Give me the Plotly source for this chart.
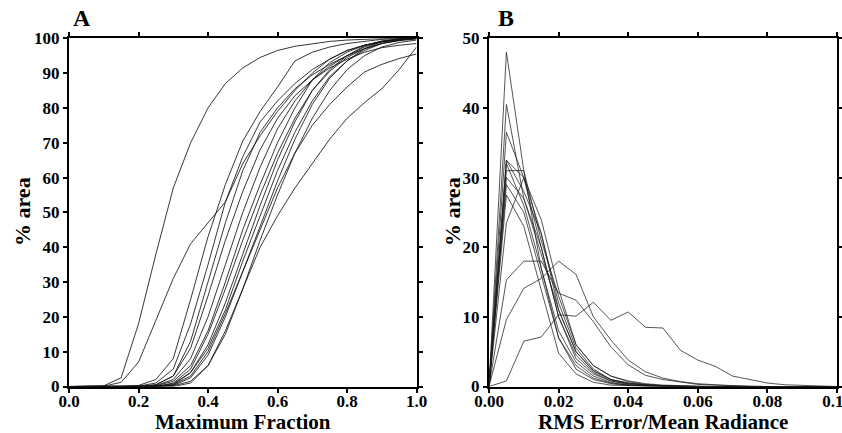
import plotly.graph_objects as go

# ---------- Panel A data (cumulative % area vs maximum fraction) ----------
xa = [0.00, 0.05, 0.10, 0.15, 0.20, 0.25, 0.30, 0.35, 0.40, 0.45, 0.50,
      0.55, 0.60, 0.65, 0.70, 0.75, 0.80, 0.85, 0.90, 0.95, 1.00]
a1 = [0, 0, 0.2, 2.5, 18, 38, 57, 70, 80, 87, 91.5, 94.5, 96.5, 97.7, 98.5, 99.1, 99.5, 99.8, 99.9, 100, 100]
a2 = [0, 0, 0.1, 1.2, 7, 19, 31, 41, 47, 53, 64, 72, 79, 85, 90, 94, 96.5, 98, 99, 99.5, 100]
a3 = [0, 0, 0, 0, 0.3, 2, 8, 25, 43, 58, 70.5, 79, 86, 93.5, 96, 97.5, 98.5, 99.2, 99.7, 99.9, 100]
a4 = [0, 0, 0, 0, 0.1, 1, 5, 18, 35, 53, 66, 76, 82, 87, 91, 94, 96.5, 98, 99, 99.6, 100]
a5 = [0, 0, 0, 0, 0, 0.5, 3, 13, 30, 47, 62, 73, 80, 85.5, 89.5, 92.5, 95, 97, 98.5, 99.3, 99.8]
a6 = [0, 0, 0, 0, 0, 0.3, 2, 8, 20, 35, 50, 63, 74, 82, 88, 92, 95, 97.5, 99, 99.7, 100]
a7 = [0, 0, 0, 0, 0, 0, 1, 5, 15, 28, 42, 55, 67, 77, 85, 90.5, 94.5, 97, 98.5, 99.5, 100]
a8 = [0, 0, 0, 0, 0, 0, 0.5, 4, 12, 24, 38, 52, 65, 76, 85, 91, 95, 97.8, 99.2, 99.8, 100]
a9 = [0, 0, 0, 0, 0, 0, 0.8, 4, 11, 22, 36, 49, 62, 73, 82, 89, 93.5, 96.5, 98.5, 99.5, 100]
a10 = [0, 0, 0, 0, 0, 0, 0.3, 2.5, 9, 20, 33, 46, 59, 71, 81, 88.5, 93.5, 97, 99, 99.7, 100]
a11 = [0, 0, 0, 0, 0, 0, 0.5, 3, 10, 21, 33, 45, 57, 67, 75, 81, 86, 90.3, 92.5, 94.2, 95.5]
a12 = [0, 0, 0, 0, 0, 0, 0, 1, 6, 16, 28, 40, 49, 57, 64, 71, 77, 81.5, 85.5, 91, 97.5]
a13 = [0, 0, 0, 0, 0, 0, 0.2, 1.5, 6, 15, 28, 42, 55, 67, 77, 85, 91, 95, 97.5, 98.8, 99.5]
a14 = [0, 0, 0, 0, 0, 0.2, 1.5, 6, 16, 30, 45, 58, 70, 80, 88, 93, 96, 98, 99.2, 99.8, 100]
a15 = [0, 0, 0, 0, 0, 0.5, 3, 11, 26, 42, 56, 68, 77, 83.5, 88, 91.5, 94, 96, 97.3, 98, 98.5]
series_a = [a1, a2, a3, a4, a5, a6, a7, a8, a9, a10, a11, a12, a13, a14, a15]

# ---------- Panel B data (% area vs RMS error / mean radiance) ----------
xb = [0.000, 0.005, 0.010, 0.015, 0.020, 0.025, 0.030, 0.035, 0.040, 0.045, 0.050,
      0.055, 0.060, 0.065, 0.070, 0.075, 0.080, 0.085, 0.090, 0.095, 0.100]
b1 = [0, 48, 31, 17, 7, 2.5, 1, 0.4, 0.15, 0.05, 0, 0, 0, 0, 0, 0, 0, 0, 0, 0, 0]
b2 = [0, 40.5, 27, 19, 11, 5, 2.2, 1, 0.5, 0.2, 0.1, 0, 0, 0, 0, 0, 0, 0, 0, 0, 0]
b3 = [0, 36.5, 30, 20, 10, 4.5, 2, 0.8, 0.3, 0.1, 0, 0, 0, 0, 0, 0, 0, 0, 0, 0, 0]
b4 = [0, 32.5, 28, 22, 12, 5.5, 2.5, 1, 0.5, 0.2, 0.1, 0, 0, 0, 0, 0, 0, 0, 0, 0, 0]
b5 = [0, 32, 26, 17, 8, 3.5, 1.5, 0.6, 0.2, 0.1, 0, 0, 0, 0, 0, 0, 0, 0, 0, 0, 0]
b6 = [0, 31, 31, 21, 13, 6, 3, 1.5, 0.7, 0.3, 0.1, 0, 0, 0, 0, 0, 0, 0, 0, 0, 0]
b7 = [0, 30, 27, 20, 10, 4, 1.8, 0.8, 0.4, 0.2, 0.1, 0, 0, 0, 0, 0, 0, 0, 0, 0, 0]
b8 = [0, 29, 25, 16, 7, 3, 1.2, 0.5, 0.2, 0.1, 0, 0, 0, 0, 0, 0, 0, 0, 0, 0, 0]
b9 = [0, 27.5, 23, 14, 4.8, 1.8, 0.6, 0.2, 0.1, 0, 0, 0, 0, 0, 0, 0, 0, 0, 0, 0, 0]
b10 = [0, 23.5, 30, 22, 11, 5, 2.3, 1, 0.4, 0.2, 0.1, 0, 0, 0, 0, 0, 0, 0, 0, 0, 0]
b11 = [0, 32.5, 30, 24, 14, 6, 3, 1.5, 0.8, 0.4, 0.2, 0.1, 0, 0, 0, 0, 0, 0, 0, 0, 0]
b12 = [0, 15.3, 18, 18, 13.4, 12.4, 9.3, 5.7, 3.1, 1.6, 1, 0.6, 0.3, 0.2, 0.1, 0, 0, 0, 0, 0, 0]
b13 = [0, 9.6, 14.1, 15.5, 18, 16.1, 10, 6.7, 3.8, 2.1, 1.2, 0.7, 0.4, 0.2, 0.1, 0, 0, 0, 0, 0, 0]
b14 = [0, 0.8, 6.5, 7.1, 10.3, 10.1, 12.1, 9.5, 10.7, 8.5, 8.4, 5.2, 3.8, 2.9, 1.5, 1, 0.5, 0.25, 0.15, 0.05, 0]
series_b = [b1, b2, b3, b4, b5, b6, b7, b8, b9, b10, b11, b12, b13, b14]

W, H = 842, 433
FONT = "Liberation Serif"

fig = go.Figure()
for s in series_a:
    fig.add_trace(go.Scatter(x=xa, y=s, mode="lines", xaxis="x", yaxis="y",
                             line=dict(color="rgba(20,20,20,0.85)", width=1),
                             showlegend=False, hoverinfo="skip"))
for s in series_b:
    fig.add_trace(go.Scatter(x=xb, y=s, mode="lines", xaxis="x2", yaxis="y2",
                             line=dict(color="rgba(30,30,30,0.75)", width=1),
                             showlegend=False, hoverinfo="skip"))

def px_x(p):
    return p / W

def px_y(p):
    return 1 - p / H

ydom = [px_y(386.5), px_y(38.3)]
axis_common = dict(showline=True, linecolor="black", linewidth=2, mirror="ticks",
                   ticks="outside", ticklen=4, tickwidth=1.5, tickcolor="black",
                   showgrid=False, zeroline=False, automargin=False,
                   tickfont=dict(family=FONT, size=17, color="black", weight="bold"))

fig.update_layout(
    width=W, height=H,
    margin=dict(l=0, r=0, t=0, b=0),
    paper_bgcolor="white", plot_bgcolor="white",
    xaxis=dict(domain=[px_x(69), px_x(416.5)], range=[0, 1], dtick=0.2,
               tickformat=".1f", anchor="y", ticklabeloverflow="allow",
               ticklabelstandoff=-6, **axis_common),
    yaxis=dict(domain=ydom, range=[0, 100], dtick=10, anchor="x", **axis_common),
    xaxis2=dict(domain=[px_x(489), px_x(837)], range=[0, 0.1], dtick=0.02,
                tickformat=".2f", anchor="y2", ticklabeloverflow="allow",
                ticklabelstandoff=-6, **axis_common),
    yaxis2=dict(domain=ydom, range=[0, 50], dtick=10, anchor="x2", **axis_common),
)

def ann(text, x, y, size, angle=0):
    fig.add_annotation(text="<b>%s</b>" % text, x=px_x(x), y=px_y(y),
                       xref="paper", yref="paper", showarrow=False,
                       xanchor="center", yanchor="middle", textangle=angle,
                       font=dict(family=FONT, size=size, color="black"))

ann("A", 82, 18, 24)
ann("B", 506, 18, 24)
ann("Maximum Fraction", 243, 422, 21)
ann("RMS Error/Mean Radiance", 663, 422, 21)
ann("% area", 22, 212, 22, -90)
ann("% area", 452, 212, 22, -90)

fig.write_html("out.html")
